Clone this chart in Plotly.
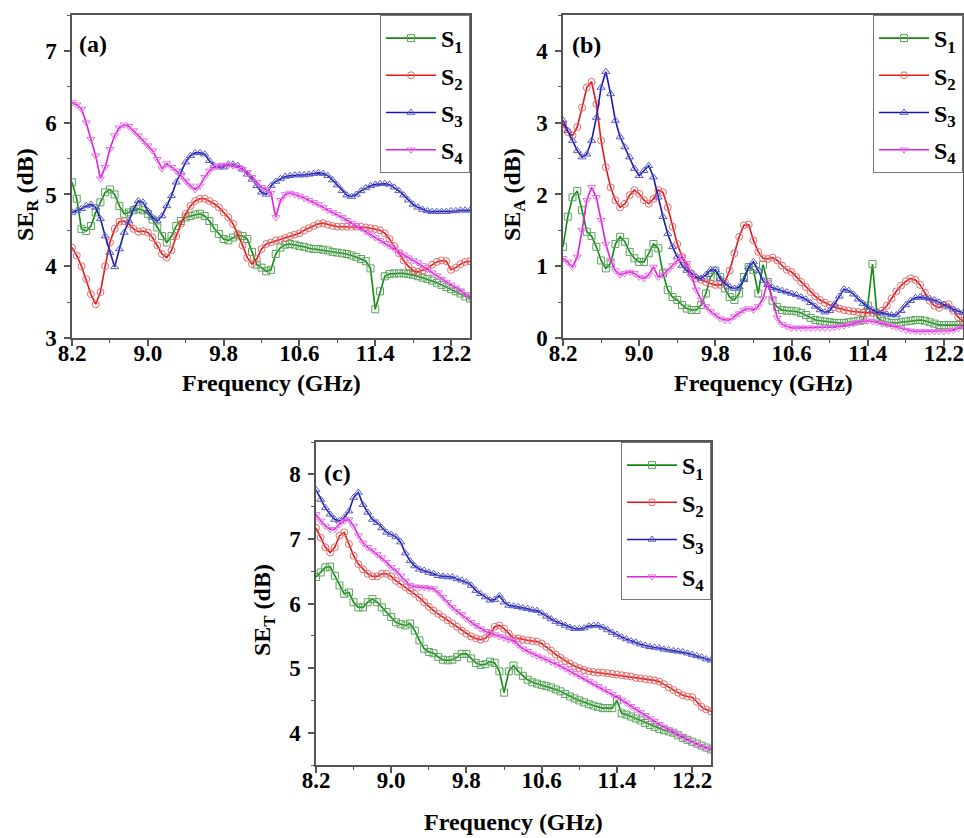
import numpy as np
import plotly.graph_objects as go

freq = np.round(np.arange(8.2, 12.4001, 0.05), 2)

se_r_s1 = [5.17,4.94,4.52,4.49,4.56,4.75,4.89,5.03,5.07,5.00,4.84,4.73,4.75,4.78,4.80,4.78,4.73,4.65,4.54,4.42,
           4.33,4.42,4.56,4.63,4.68,4.70,4.72,4.73,4.70,4.63,4.53,4.45,4.38,4.36,4.40,4.43,4.42,4.38,4.20,4.02,
           3.98,3.93,3.95,4.17,4.26,4.30,4.31,4.30,4.28,4.27,4.25,4.24,4.24,4.23,4.22,4.20,4.19,4.18,4.17,4.15,
           4.13,4.10,4.07,3.97,3.40,3.65,3.86,3.89,3.90,3.90,3.90,3.89,3.88,3.86,3.84,3.82,3.80,3.77,3.74,3.71,
           3.68,3.65,3.62,3.58,3.55]
se_r_s2 = [4.26,4.15,4.00,3.82,3.61,3.47,3.64,4.00,4.33,4.52,4.62,4.63,4.59,4.52,4.48,4.49,4.47,4.40,4.29,4.17,
           4.12,4.22,4.42,4.59,4.73,4.84,4.91,4.94,4.94,4.91,4.87,4.82,4.75,4.68,4.59,4.45,4.29,4.12,4.03,4.10,
           4.24,4.31,4.33,4.36,4.37,4.39,4.42,4.44,4.46,4.50,4.53,4.56,4.59,4.60,4.58,4.56,4.55,4.55,4.55,4.55,
           4.55,4.55,4.54,4.53,4.52,4.50,4.46,4.38,4.28,4.18,4.08,4.00,3.94,3.92,3.94,3.97,4.02,4.06,4.08,4.07,
           3.95,3.98,4.03,4.06,4.07]
se_r_s3 = [4.75,4.77,4.80,4.84,4.86,4.82,4.66,4.42,4.19,3.99,4.24,4.47,4.63,4.80,4.91,4.89,4.77,4.68,4.63,4.70,
           4.84,4.98,5.17,5.31,5.45,5.54,5.58,5.58,5.56,5.47,5.40,5.38,5.38,5.42,5.42,5.40,5.35,5.28,5.21,5.12,
           5.03,5.00,5.12,5.18,5.22,5.25,5.26,5.27,5.27,5.27,5.28,5.29,5.30,5.29,5.26,5.20,5.13,5.05,4.99,4.97,
           5.00,5.05,5.09,5.12,5.14,5.15,5.15,5.14,5.10,5.05,4.99,4.92,4.86,4.82,4.79,4.77,4.76,4.76,4.76,4.76,
           4.77,4.77,4.78,4.78,4.78]
se_r_s4 = [6.28,6.25,6.19,6.00,5.77,5.54,5.22,5.38,5.63,5.82,5.93,5.97,5.95,5.89,5.82,5.75,5.68,5.61,5.49,5.36,
           5.43,5.38,5.33,5.26,5.19,5.12,5.07,5.12,5.24,5.33,5.38,5.40,5.41,5.41,5.40,5.38,5.35,5.31,5.24,5.17,
           5.10,5.07,5.02,4.68,4.92,5.00,5.02,5.00,4.98,4.95,4.92,4.89,4.86,4.82,4.78,4.75,4.72,4.68,4.64,4.60,
           4.57,4.53,4.48,4.44,4.40,4.36,4.32,4.28,4.24,4.20,4.16,4.12,4.08,4.05,4.01,3.96,3.91,3.87,3.82,3.78,
           3.74,3.70,3.66,3.61,3.57]

se_a_s1 = [1.27,1.69,1.96,2.05,1.78,1.48,1.42,1.27,1.08,0.97,1.04,1.31,1.41,1.34,1.20,1.11,1.06,1.06,1.18,1.31,
           1.25,0.90,0.67,0.57,0.53,0.46,0.41,0.39,0.39,0.46,0.62,0.85,0.94,0.85,0.69,0.57,0.53,0.62,0.85,0.99,
           0.95,0.62,1.02,0.78,0.52,0.43,0.39,0.38,0.38,0.37,0.35,0.32,0.28,0.25,0.24,0.23,0.22,0.21,0.21,0.21,
           0.22,0.23,0.24,0.25,0.45,1.03,0.28,0.24,0.22,0.21,0.21,0.22,0.23,0.24,0.25,0.25,0.24,0.22,0.20,0.18,
           0.18,0.18,0.18,0.18,0.18]
se_a_s2 = [2.98,2.87,2.82,2.94,3.21,3.49,3.57,3.26,2.75,2.38,2.10,1.92,1.82,1.87,1.99,2.06,2.01,1.92,1.87,1.94,
           2.06,2.03,1.82,1.55,1.31,1.13,0.99,0.90,0.83,0.81,0.78,0.76,0.74,0.74,0.78,0.94,1.18,1.41,1.57,1.58,
           1.36,1.20,1.11,1.10,1.12,1.08,1.01,0.95,0.92,0.85,0.78,0.71,0.64,0.58,0.53,0.49,0.46,0.43,0.41,0.39,
           0.38,0.37,0.36,0.35,0.35,0.35,0.35,0.38,0.45,0.55,0.65,0.73,0.79,0.83,0.81,0.74,0.63,0.52,0.45,0.42,
           0.46,0.47,0.38,0.29,0.24]
se_a_s3 = [3.03,2.89,2.75,2.61,2.52,2.56,2.75,3.07,3.49,3.71,3.40,3.03,2.80,2.66,2.52,2.36,2.26,2.33,2.40,2.24,
           1.96,1.69,1.45,1.27,1.13,1.01,0.94,0.90,0.85,0.83,0.88,0.95,0.95,0.83,0.76,0.71,0.69,0.71,0.81,0.99,
           1.06,0.94,0.80,0.74,0.70,0.68,0.66,0.64,0.62,0.60,0.57,0.54,0.49,0.44,0.39,0.36,0.38,0.47,0.58,0.68,
           0.66,0.61,0.54,0.48,0.43,0.39,0.36,0.35,0.33,0.32,0.32,0.38,0.46,0.52,0.56,0.57,0.56,0.55,0.53,0.50,
           0.46,0.43,0.40,0.37,0.35]
se_a_s4 = [1.11,1.06,0.99,1.13,1.50,1.92,2.10,1.96,1.64,1.31,1.08,0.94,0.88,0.90,0.92,0.90,0.85,0.83,0.88,0.99,
           0.85,0.88,0.94,1.01,1.08,1.13,1.04,0.85,0.67,0.53,0.44,0.37,0.32,0.27,0.25,0.25,0.30,0.34,0.39,0.41,
           0.39,0.44,0.55,0.78,0.55,0.28,0.19,0.16,0.14,0.14,0.14,0.14,0.14,0.14,0.14,0.14,0.14,0.15,0.16,0.17,
           0.19,0.20,0.22,0.23,0.24,0.23,0.22,0.20,0.19,0.17,0.15,0.13,0.11,0.10,0.09,0.09,0.09,0.09,0.09,0.09,
           0.09,0.10,0.11,0.13,0.16]

se_t_s1 = [6.41,6.48,6.56,6.57,6.43,6.28,6.15,6.17,6.02,5.94,5.94,6.02,6.07,6.02,5.94,5.87,5.79,5.71,5.68,5.66,
           5.69,5.58,5.43,5.30,5.25,5.23,5.17,5.13,5.12,5.13,5.17,5.22,5.22,5.15,5.08,5.05,5.06,5.10,5.08,4.95,
           4.62,4.95,5.04,4.95,4.88,4.82,4.78,4.76,4.74,4.72,4.70,4.67,4.64,4.60,4.56,4.53,4.50,4.47,4.44,4.42,
           4.40,4.38,4.38,4.38,4.50,4.30,4.28,4.25,4.22,4.19,4.15,4.12,4.09,4.06,4.04,4.02,4.00,3.96,3.92,3.89,
           3.86,3.83,3.80,3.77,3.74]
se_t_s2 = [7.17,7.02,6.87,6.79,6.87,7.05,7.10,6.92,6.74,6.61,6.53,6.46,6.42,6.42,6.46,6.46,6.42,6.35,6.30,6.25,
           6.20,6.15,6.09,6.02,5.95,5.89,5.84,5.79,5.74,5.69,5.64,5.58,5.53,5.49,5.46,5.44,5.46,5.53,5.64,5.66,
           5.61,5.53,5.46,5.46,5.44,5.43,5.42,5.41,5.38,5.33,5.27,5.21,5.16,5.11,5.07,5.03,5.00,4.97,4.95,4.94,
           4.93,4.93,4.92,4.91,4.90,4.89,4.88,4.87,4.85,4.84,4.83,4.82,4.81,4.79,4.75,4.70,4.66,4.62,4.58,4.56,
           4.55,4.48,4.40,4.36,4.33]
se_t_s3 = [7.76,7.61,7.48,7.38,7.30,7.28,7.33,7.43,7.64,7.72,7.53,7.41,7.30,7.25,7.17,7.10,7.07,7.03,6.95,6.78,
           6.66,6.58,6.53,6.51,6.48,6.46,6.43,6.42,6.41,6.41,6.38,6.36,6.33,6.28,6.20,6.15,6.10,6.05,6.06,6.12,
           6.02,5.97,5.96,5.95,5.93,5.92,5.90,5.89,5.85,5.80,5.76,5.72,5.69,5.66,5.63,5.61,5.61,5.62,5.65,5.66,
           5.66,5.63,5.59,5.55,5.52,5.48,5.45,5.42,5.40,5.37,5.35,5.33,5.32,5.31,5.29,5.28,5.27,5.26,5.25,5.23,
           5.21,5.19,5.17,5.14,5.12]
se_t_s4 = [7.38,7.28,7.20,7.15,7.15,7.23,7.28,7.30,7.20,7.05,6.94,6.87,6.82,6.76,6.71,6.64,6.56,6.51,6.43,6.35,
           6.28,6.26,6.25,6.25,6.24,6.23,6.17,6.10,6.02,5.94,5.88,5.83,5.76,5.71,5.66,5.61,5.57,5.54,5.52,5.49,
           5.47,5.44,5.43,5.36,5.30,5.26,5.22,5.19,5.16,5.13,5.10,5.06,5.03,4.99,4.95,4.92,4.88,4.84,4.80,4.76,
           4.72,4.68,4.64,4.60,4.55,4.51,4.46,4.41,4.36,4.32,4.27,4.22,4.18,4.13,4.09,4.05,4.01,3.97,3.93,3.89,
           3.85,3.82,3.79,3.76,3.74]

series_names = ["S<sub>1</sub>", "S<sub>2</sub>", "S<sub>3</sub>", "S<sub>4</sub>"]
line_colors = ["#128a12", "#e3161b", "#1a1ab0", "#e01ee0"]
marker_colors = ["#5aa55a", "#e66a6a", "#5a5ac8", "#e670e6"]
symbols = ["square-open", "circle-open", "triangle-up-open", "triangle-down-open"]

panels = [
    ([se_r_s1, se_r_s2, se_r_s3, se_r_s4], "x", "y", "legend"),
    ([se_a_s1, se_a_s2, se_a_s3, se_a_s4], "x2", "y2", "legend2"),
    ([se_t_s1, se_t_s2, se_t_s3, se_t_s4], "x3", "y3", "legend3"),
]

W, H = 964, 838
def dx(px):
    return px / W
def dy(py):
    return 1 - py / H

FAMILY = "Liberation Serif, Times New Roman, Times, serif"

fig = go.Figure()
for data, xa, ya, lg in panels:
    for i, vals in enumerate(data):
        fig.add_trace(go.Scatter(
            x=freq, y=vals, xaxis=xa, yaxis=ya, legend=lg,
            name=series_names[i], legendgroup=lg + str(i),
            mode="lines+markers",
            line=dict(color=line_colors[i], width=1.6),
            marker=dict(symbol=symbols[i], size=7, color=marker_colors[i],
                        line=dict(width=1, color=marker_colors[i])),
        ))

font_b = dict(family=FAMILY, size=23, color="black", weight="bold")

def xaxis(domain, anchor):
    return dict(domain=domain, anchor=anchor, range=[8.2, 12.4], tick0=8.2, dtick=0.8,
                tickformat=".1f", showline=True, linecolor="#555", linewidth=1.5, mirror=True,
                ticks="outside", ticklen=6, tickwidth=1.5, tickcolor="#555",
                minor=dict(ticks="outside", ticklen=3, tickwidth=1.2, tickcolor="#555", dtick=0.4, tick0=8.2),
                showgrid=False, zeroline=False, tickfont=font_b, automargin=False,
                ticklabelstandoff=-12, ticklabeloverflow="allow")

def yaxis(domain, anchor, rng, dt):
    return dict(domain=domain, anchor=anchor, range=rng, dtick=dt, tick0=0,
                showline=True, linecolor="#555", linewidth=1.5, mirror=True,
                ticks="outside", ticklen=6, tickwidth=1.5, tickcolor="#555",
                minor=dict(ticks="outside", ticklen=3, tickwidth=1.2, tickcolor="#555", dtick=0.5, tick0=0),
                showgrid=False, zeroline=False, tickfont=font_b, ticklabelstandoff=3, automargin=False,
                ticklabeloverflow="allow")

leg_common = dict(bgcolor="white", bordercolor="#777", borderwidth=1,
                  font=dict(family=FAMILY, size=24, color="black", weight="bold"),
                  xanchor="right", yanchor="top", tracegroupgap=3, itemwidth=50)

fig.update_layout(
    width=W, height=H, margin=dict(l=0, r=0, t=0, b=0, autoexpand=False),
    paper_bgcolor="white", plot_bgcolor="white", showlegend=True,
    xaxis=xaxis([dx(72), dx(470)], "y"),
    yaxis=yaxis([dy(338), dy(15)], "x", [3, 7.5], 1),
    xaxis2=xaxis([dx(563), dx(963)], "y2"),
    yaxis2=yaxis([dy(338), dy(15)], "x2", [0, 4.5], 1),
    xaxis3=xaxis([dx(316), dx(711)], "y3"),
    yaxis3=yaxis([dy(765), dy(442)], "x3", [3.5, 8.5], 1),
    legend=dict(x=dx(470), y=dy(15), **leg_common),
    legend2=dict(x=dx(963), y=dy(15), **leg_common),
    legend3=dict(x=dx(711), y=dy(442), **leg_common),
)

title_font = dict(family=FAMILY, size=24, color="black", weight="bold")
annots = [
    ("Frequency (GHz)", 271, 383, 0),
    ("Frequency (GHz)", 763, 383, 0),
    ("Frequency (GHz)", 513, 822, 0),
    ("SE<sub>R</sub> (dB)", 27, 195, -90),
    ("SE<sub>A</sub> (dB)", 514, 195, -90),
    ("SE<sub>T</sub> (dB)", 264, 610, -90),
    ("(a)", 93, 44, 0),
    ("(b)", 586, 45, 0),
    ("(c)", 337, 473, 0),
]
for text, px, py, ang in annots:
    fig.add_annotation(text=text, x=dx(px), y=dy(py), xref="paper", yref="paper",
                       showarrow=False, textangle=ang, font=title_font,
                       xanchor="center", yanchor="middle")

fig.write_html("out.html", config={"displayModeBar": False},
               post_script="document.body.style.margin='0px';document.body.style.overflow='hidden';")
